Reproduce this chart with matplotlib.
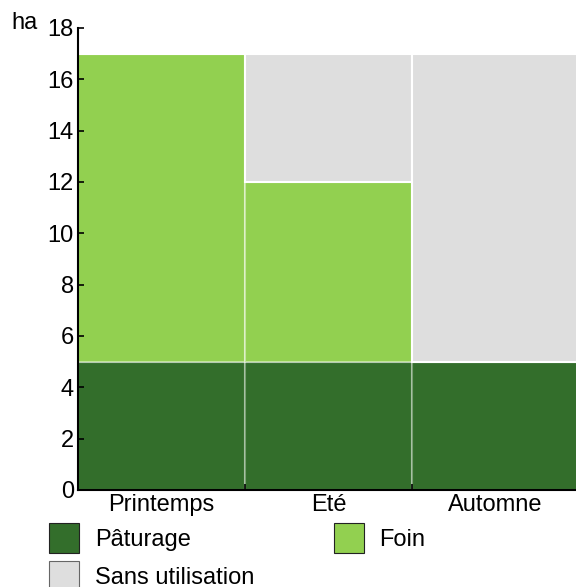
import matplotlib
matplotlib.use("Agg")
import matplotlib.pyplot as plt
from matplotlib.patches import Patch

categories = ["Printemps", "Eté", "Automne"]
paturage = [5, 5, 5]
foin = [12, 7, 0]
sans_utilisation = [0, 5, 12]
yticks = [0, 2, 4, 6, 8, 10, 12, 14, 16, 18]

c_pat = "#336e2b"
c_foin = "#92d050"
c_sans = "#dedede"

plt.rcParams["font.family"] = ["Liberation Sans", "DejaVu Sans"]
fs = 17

W, H = 576, 587
fig = plt.figure(figsize=(W / 100, H / 100), dpi=100)
ax = fig.add_axes([78 / W, (H - 490) / H, (576 - 78) / W, (490 - 28) / H])

x = list(range(len(categories)))
ax.bar(x, paturage, width=1.0, color=c_pat, edgecolor=(1, 1, 1, 0.35), linewidth=1.5)
ax.bar(x, foin, width=1.0, bottom=paturage, color=c_foin, edgecolor=(1, 1, 1, 0.45), linewidth=1.5)
bot2 = [a + b for a, b in zip(paturage, foin)]
ax.bar(x, sans_utilisation, width=1.0, bottom=bot2, color=c_sans, edgecolor="white", linewidth=1.5)

ax.set_xlim(-0.5, 2.482)
ax.set_ylim(0, 18)
ax.set_yticks(yticks)
ax.set_xticks(x)
ax.set_xticklabels(categories, fontsize=fs)
ax.set_xticks([0.5, 1.5], minor=True)
ax.tick_params(axis="x", which="major", length=0, pad=3)
ax.tick_params(axis="x", which="minor", direction="in", length=4, width=1.2)
ax.tick_params(axis="y", direction="in", length=4, width=1.2, labelsize=fs, pad=3)
for s in ["top", "right"]:
    ax.spines[s].set_visible(False)
for s in ["left", "bottom"]:
    ax.spines[s].set_linewidth(1.5)

fig.text(11 / W, 1 - 23 / H, "ha", fontsize=fs, va="center", ha="left")

handles = [
    Patch(facecolor=c_pat, edgecolor="#222222", linewidth=0.8),
    Patch(facecolor=c_sans, edgecolor="#666666", linewidth=0.8),
    Patch(facecolor=c_foin, edgecolor="#222222", linewidth=0.8),
]
labels = ["Pâturage", "Sans utilisation", "Foin"]
fig.legend(handles, labels, ncol=2, loc="upper left",
           bbox_to_anchor=(49 / W, 1 - 523 / H), bbox_transform=fig.transFigure,
           frameon=False, fontsize=fs, handlelength=1.27, handleheight=1.577,
           handletextpad=0.68, columnspacing=3.35, labelspacing=0.34,
           borderaxespad=0, borderpad=0)

fig.savefig("out.png", dpi=100)
